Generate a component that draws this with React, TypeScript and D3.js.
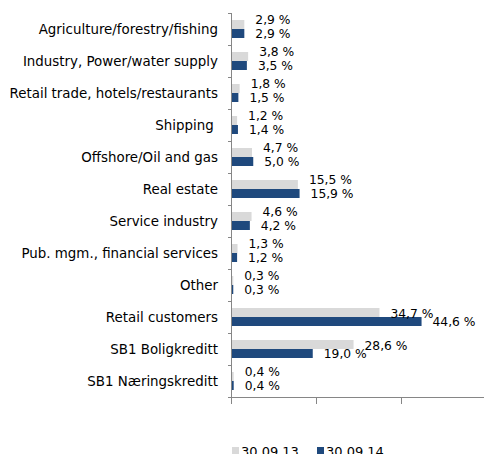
import React from "react";
import * as d3 from "d3";

const categories = [
  "Agriculture/forestry/fishing",
  "Industry, Power/water supply",
  "Retail trade, hotels/restaurants",
  "Shipping ",
  "Offshore/Oil and gas",
  "Real estate",
  "Service industry",
  "Pub. mgm., financial services",
  "Other",
  "Retail customers",
  "SB1 Boligkreditt",
  "SB1 Næringskreditt",
];
const values2013 = [2.9, 3.8, 1.8, 1.2, 4.7, 15.5, 4.6, 1.3, 0.3, 34.7, 28.6, 0.4];
const values2014 = [2.9, 3.5, 1.5, 1.4, 5.0, 15.9, 4.2, 1.2, 0.3, 44.6, 19.0, 0.4];
const seriesNames = ["30.09.13", "30.09.14"];
const xTicks = [0, 20, 40, 60];

const W = 484;
const H = 454;
const GRAY = "#d9d9d9";
const BLUE = "#1f497d";
const AXIS = "#868686";
const FONT = "'DejaVu Sans', Verdana, sans-serif";

function fmt(v: number) {
  return v.toFixed(1).replace(".", ",") + " %";
}

export default function App() {
  const x = d3.scaleLinear().domain([0, 60]).range([231, 486]);
  const y = d3.scaleBand<string>().domain(categories).range([13, 397]);
  const x0 = x(0);
  const bw = 9;

  return (
    <svg
      width={W}
      height={H}
      style={{ position: "absolute", left: 0, top: 0, background: "#fff" }}
      fontFamily={FONT}
    >
      {categories.map((c, i) => {
        const top = y(c)!;
        const gy = top + 7;
        const by = top + 16;
        const gEnd = x(values2013[i]);
        const bEnd = x(values2014[i]);
        const labelW = 34;
        const overlap = Math.abs(gEnd - bEnd) < labelW;
        const gLabelY = gy + bw / 2 - (overlap ? 4.5 : -1);
        const bLabelY = by + bw / 2;
        return (
          <g key={c}>
            <text
              x={218}
              y={top + y.bandwidth() / 2}
              dy="0.35em"
              textAnchor="end"
              fontSize={13.4}
              fill="#000"
              style={{ whiteSpace: "pre" }}
            >
              {c}
            </text>
            <rect x={x0 + 1} y={gy} width={Math.max(0, gEnd - x0)} height={bw} fill={GRAY} />
            <rect x={x0 + 1} y={by} width={Math.max(0, bEnd - x0)} height={bw} fill={BLUE} />
            <text x={gEnd + 12} y={gLabelY} dy="0.35em" fontSize={12.3} fill="#000">
              {fmt(values2013[i])}
            </text>
            <text x={bEnd + 12} y={bLabelY} dy="0.35em" fontSize={12.3} fill="#000">
              {fmt(values2014[i])}
            </text>
          </g>
        );
      })}
      {/* y axis */}
      <line x1={x0 + 0.5} x2={x0 + 0.5} y1={13} y2={398} stroke={AXIS} />
      {d3.range(categories.length + 1).map((i) => {
        const yy = 13 + i * y.step();
        return (
          <line key={i} x1={x0 - 3} x2={x0 + 0.5} y1={yy + 0.5} y2={yy + 0.5} stroke={AXIS} />
        );
      })}
      {/* x axis */}
      <line x1={x0} x2={W} y1={397.5} y2={397.5} stroke={AXIS} />
      {xTicks.map((t) => (
        <line key={t} x1={x(t) + 0.5} x2={x(t) + 0.5} y1={397.5} y2={404} stroke={AXIS} />
      ))}
      {/* legend */}
      <rect x={232} y={447} width={7} height={7} fill={GRAY} />
      <text x={241} y={456} fontSize={13} fill="#000">
        {seriesNames[0]}
      </text>
      <rect x={317} y={447} width={7} height={7} fill={BLUE} />
      <text x={326} y={456} fontSize={13} fill="#000">
        {seriesNames[1]}
      </text>
    </svg>
  );
}
